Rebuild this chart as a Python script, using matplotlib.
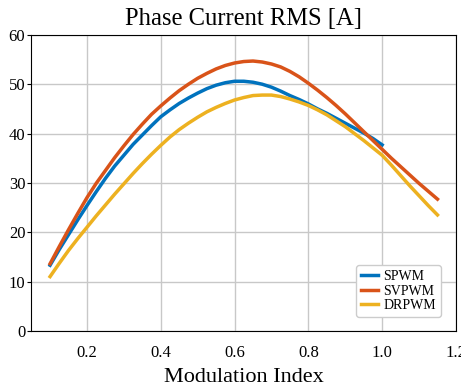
import numpy as np
import matplotlib.pyplot as plt

plt.rcParams['font.family'] = ['Liberation Serif', 'DejaVu Serif']

m_sp = [0.100, 0.125, 0.150, 0.175, 0.200, 0.225, 0.250, 0.275, 0.300, 0.325,
        0.350, 0.375, 0.400, 0.425, 0.450, 0.475, 0.500, 0.525, 0.550, 0.575,
        0.600, 0.625, 0.650, 0.675, 0.700, 0.725, 0.750, 0.775, 0.800, 0.825,
        0.850, 0.875, 0.900, 0.925, 0.950, 0.975, 1.000]
spwm = [13.3, 16.5, 19.5, 22.5, 25.4, 28.2, 30.9, 33.4, 35.6, 37.8,
        39.7, 41.6, 43.4, 44.8, 46.1, 47.2, 48.2, 49.1, 49.8, 50.3,
        50.6, 50.6, 50.4, 50.0, 49.4, 48.6, 47.7, 46.9, 46.0, 45.0,
        44.1, 43.1, 42.1, 41.1, 40.1, 39.0, 37.7]

m_sv = m_sp + [1.025, 1.050, 1.075, 1.100, 1.125, 1.150]
svpwm = [13.6, 17.1, 20.5, 23.8, 27.0, 29.9, 32.5, 35.1, 37.5, 39.8,
         41.9, 43.9, 45.6, 47.2, 48.7, 50.0, 51.2, 52.2, 53.1, 53.8,
         54.3, 54.6, 54.7, 54.5, 54.1, 53.5, 52.6, 51.5, 50.2, 48.8,
         47.3, 45.7, 44.0, 42.2, 40.4, 38.6, 36.8, 35.0, 33.3, 31.6,
         29.9, 28.3, 26.7]
drpwm = [11.0, 13.7, 16.3, 18.7, 21.0, 23.3, 25.5, 27.7, 29.8, 31.9,
         33.9, 35.8, 37.6, 39.3, 40.8, 42.1, 43.3, 44.4, 45.3, 46.1,
         46.8, 47.3, 47.7, 47.8, 47.8, 47.5, 47.0, 46.4, 45.7, 44.8,
         43.8, 42.6, 41.4, 40.0, 38.6, 37.1, 35.6, 33.6, 31.5, 29.4,
         27.4, 25.4, 23.5]

fig = plt.figure(figsize=(4.61, 3.92), dpi=100)
ax = fig.add_axes([0.067, 0.156, 0.922, 0.755])

ax.plot(m_sp, spwm, color='#0072BD', lw=2.5, label='SPWM', zorder=3)
ax.plot(m_sv, svpwm, color='#D95319', lw=2.5, label='SVPWM', zorder=3)
ax.plot(m_sv, drpwm, color='#EDB120', lw=2.5, label='DRPWM', zorder=3)

ax.set_xlim(0.048, 1.2)
ax.set_ylim(0, 60)
ax.set_xticks([0.2, 0.4, 0.6, 0.8, 1.0, 1.2])
ax.set_xticklabels(['0.2', '0.4', '0.6', '0.8', '1.0', '1.2'])
ax.set_yticks([0, 10, 20, 30, 40, 50, 60])
ax.grid(True, color='#c8c8c8', lw=1)
ax.tick_params(axis='x', length=0, pad=10, labelsize=12)
ax.tick_params(axis='y', length=3, pad=1, labelsize=12)
ax.set_title('Phase Current RMS [A]', fontsize=17.7, pad=7)
ax.set_xlabel('Modulation Index', fontsize=16, labelpad=5)

ax.legend(loc='lower right', bbox_to_anchor=(0.965, 0.047), borderaxespad=0,
          fontsize=10, handlelength=1.2, handletextpad=0.4, labelspacing=0.1,
          borderpad=0.35, framealpha=1, edgecolor='#cccccc')

plt.savefig('out.png', dpi=100)
